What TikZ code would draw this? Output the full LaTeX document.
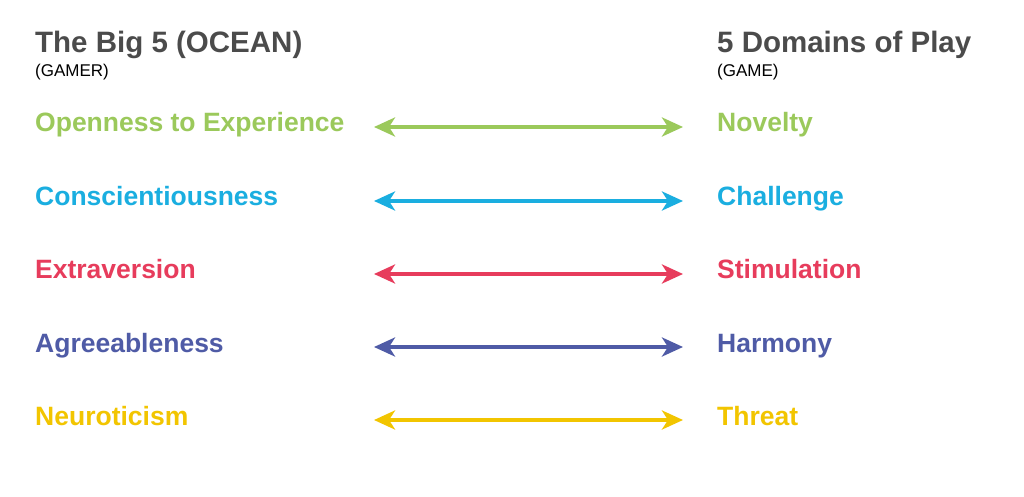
\documentclass[tikz,border=0pt]{standalone}
\usepackage{fontspec}
\setmainfont{Liberation Sans}
\usetikzlibrary{arrows.meta}
\definecolor{headgray}{HTML}{4B4B4B}
\definecolor{opengreen}{HTML}{9BC95B}
\definecolor{consblue}{HTML}{1AAEE0}
\definecolor{extrared}{HTML}{E73C5C}
\definecolor{agreeblue}{HTML}{4F5BA6}
\definecolor{neuroyellow}{HTML}{F2C500}
\tikzset{
  heading/.style={anchor=base west,inner sep=0pt,text=headgray,font=\fontsize{29.5}{32}\selectfont\bfseries},
  subhead/.style={anchor=base west,inner sep=0pt,text=black,font=\fontsize{17}{19}\selectfont},
  trait/.style={anchor=base west,inner sep=0pt,font=\fontsize{26.5}{30}\selectfont\bfseries},
  link/.style={line width=4pt,{Stealth[length=21pt,width=19pt,inset=6pt]}-{Stealth[length=21pt,width=19pt,inset=6pt]}}
}
\begin{document}
\begin{tikzpicture}[x=1pt,y=-1pt]
\useasboundingbox[fill=white] (0,0) rectangle (1024,497);
% headings
\node[heading] (bigfive) at (35,53) {The Big 5 (OCEAN)};
\node[subhead] (gamer) at (35,77) {(GAMER)};
\node[heading] (domains) at (717,53) {5 Domains of Play};
\node[subhead] (game) at (717,77) {(GAME)};
% traits
\node[trait,text=opengreen] (open) at (35,132) {Openness to Experience};
\node[trait,text=consblue] (cons) at (35,205) {Conscientiousness};
\node[trait,text=extrared] (extra) at (35,278.5) {Extraversion};
\node[trait,text=agreeblue] (agree) at (35,352) {Agreeableness};
\node[trait,text=neuroyellow] (neuro) at (35,425) {Neuroticism};
% domains
\node[trait,text=opengreen] (novelty) at (717,132) {Novelty};
\node[trait,text=consblue] (challenge) at (717,205) {Challenge};
\node[trait,text=extrared] (stimulation) at (717,278.5) {Stimulation};
\node[trait,text=agreeblue] (harmony) at (717,352) {Harmony};
\node[trait,text=neuroyellow] (threat) at (717,425) {Threat};
% arrow ends
\coordinate (l1) at (374,127); \coordinate (r1) at (683,127);
\coordinate (l2) at (374,201); \coordinate (r2) at (683,201);
\coordinate (l3) at (374,274); \coordinate (r3) at (683,274);
\coordinate (l4) at (374,347); \coordinate (r4) at (683,347);
\coordinate (l5) at (374,420); \coordinate (r5) at (683,420);
\draw[link,opengreen] (l1) -- (r1);
\draw[link,consblue] (l2) -- (r2);
\draw[link,extrared] (l3) -- (r3);
\draw[link,agreeblue] (l4) -- (r4);
\draw[link,neuroyellow] (l5) -- (r5);
\end{tikzpicture}
\end{document}
